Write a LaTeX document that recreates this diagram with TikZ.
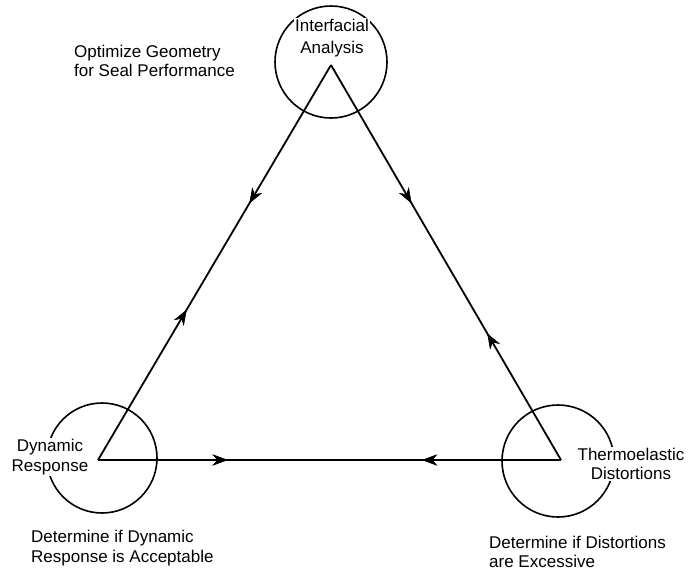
\documentclass[tikz,border=0pt]{standalone}
\usepackage{fontspec}
\setmainfont{Liberation Sans}
\usetikzlibrary{arrows.meta,decorations.markings}
\begin{document}
\begin{tikzpicture}[x=1pt,y=-1pt,
  ring/.style={circle,draw,line width=1.6pt,minimum size=#1,inner sep=0pt},
  edge/.style={line width=1.8pt},
  lbl/.style={font=\fontsize{17}{19.5}\selectfont,inner sep=1pt},
  masklbl/.style={lbl,fill=white,align=center},
  note/.style={lbl,align=left,anchor=west},
  arr/.style={postaction={decorate},decoration={markings,
     mark=at position #1 with {\arrow{Stealth[length=15pt,width=11pt]}}}},
  rarr/.style={postaction={decorate},decoration={markings,
     mark=at position #1 with {\arrowreversed{Stealth[length=15pt,width=11pt]}}}}
]
\useasboundingbox (0,0) rectangle (689,574);
% circles
\node[ring=112pt] (ct) at (331,62) {};
\node[ring=110pt] (cl) at (102,458) {};
\node[ring=112pt] (cr) at (558,461) {};
% vertices
\coordinate (T) at (331,65);
\coordinate (L) at (98,460);
\coordinate (R) at (561,460);
% edges
\draw[edge,arr=0.35,rarr=0.62] (T) -- (L);
\draw[edge,arr=0.35,rarr=0.68] (T) -- (R);
\draw[edge,arr=0.28,rarr=0.70] (L) -- (R);
% labels
\node[masklbl,font=\fontsize{17}{22}\selectfont] (ti) at (332,38) {Interfacial\\Analysis};
\node[masklbl] (tl) at (50,457) {Dynamic\\Response};
\node[masklbl] (tr) at (631,464) {Thermoelastic\\Distortions};
\node[note] (n1) at (73,61) {Optimize Geometry\\for Seal Performance};
\node[note] (n2) at (30,548) {Determine if Dynamic\\Response is Acceptable};
\node[note] (n3) at (488,552) {Determine if Distortions\\are Excessive};
\end{tikzpicture}
\end{document}
